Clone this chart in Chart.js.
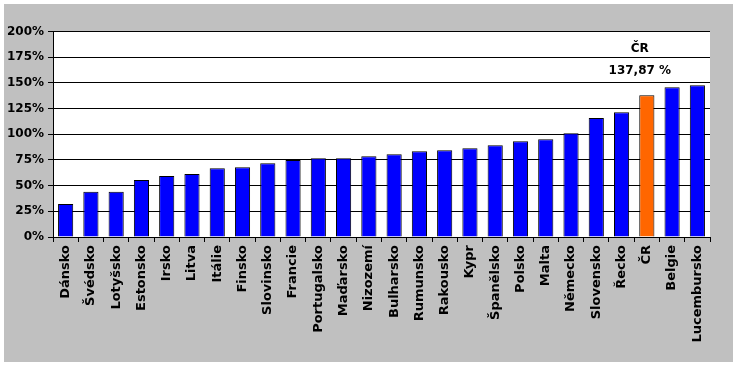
<!DOCTYPE html>
<html>
<head>
<meta charset="utf-8">
<script src="https://cdn.jsdelivr.net/npm/chart.js@4"></script>
<style>
  body { margin: 0; background: #ffffff; }
  #box {
    position: absolute;
    left: 4px;
    top: 4px;
    width: 729px;
    height: 358px;
    background: #c0c0c0;
  }
</style>
</head>
<body>
<div id="box"><canvas id="euChart"></canvas></div>
<script>
const countries = [
    "Dánsko", "Švédsko", "Lotyšsko", "Estonsko", "Irsko", "Litva", "Itálie",
    "Finsko", "Slovinsko", "Francie", "Portugalsko", "Maďarsko", "Nizozemí",
    "Bulharsko", "Rumunsko", "Rakousko", "Kypr", "Španělsko", "Polsko",
    "Malta", "Německo", "Slovensko", "Řecko", "ČR", "Belgie", "Lucembursko"
];

const values = [
    32, 44, 44, 55.5, 59.4, 61.3, 67, 67.8, 71.7, 74.9, 76.6, 76.6, 78.5,
    80.5, 83.4, 84.4, 86.3, 89.2, 93.1, 95.1, 100.9, 115.8, 121.3, 137.87,
    145.7, 147.6
];

const highlight = "ČR";
const highlightText = ["ČR", "137,87 %"];

const barColors = countries.map(c => c === highlight ? "#ff6600" : "#0000ff");

const yFont = { family: "DejaVu Sans", size: 12, weight: "bold" };
const xFont = { family: "DejaVu Sans", size: 13, weight: "bold" };

// white plot area on the grey box
const plotBackground = {
    id: "plotBackground",
    beforeDraw(chart) {
        const a = chart.chartArea;
        const c = chart.ctx;
        c.save();
        c.fillStyle = "#ffffff";
        c.fillRect(a.left, a.top, a.right - a.left, a.bottom - a.top);
        c.restore();
    }
};

// "ČR / 137,87 %" note above the highlighted bar
const highlightNote = {
    id: "highlightNote",
    afterDatasetsDraw(chart) {
        const c = chart.ctx;
        const xs = chart.scales.x;
        const ys = chart.scales.y;
        const x = xs.getPixelForValue(countries.indexOf(highlight)) - 7;
        c.save();
        c.font = "bold 12px 'DejaVu Sans'";
        c.fillStyle = "#000000";
        c.textAlign = "center";
        c.textBaseline = "middle";
        c.fillText(highlightText[0], x, ys.getPixelForValue(183));
        c.fillText(highlightText[1], x, ys.getPixelForValue(162));
        c.restore();
    }
};

new Chart(document.getElementById("euChart"), {
    type: "bar",
    data: {
        labels: countries,
        datasets: [{
            data: values,
            backgroundColor: barColors,
            borderColor: "#000000",
            borderWidth: 1,
            barPercentage: 0.6,
            categoryPercentage: 1
        }]
    },
    options: {
        responsive: true,
        maintainAspectRatio: false,
        animation: false,
        layout: { padding: { left: 0, top: 27.5, right: 23, bottom: 0 } },
        plugins: {
            legend: { display: false },
            tooltip: { enabled: false }
        },
        scales: {
            x: {
                offset: true,
                grid: {
                    offset: true,
                    drawOnChartArea: false,
                    drawTicks: true,
                    tickLength: 5,
                    color: "#000000"
                },
                border: { color: "#000000", width: 1 },
                ticks: {
                    color: "#000000",
                    font: xFont,
                    minRotation: 90,
                    maxRotation: 90,
                    autoSkip: false,
                    padding: 3
                },
                afterFit(scale) { scale.height = 125; }
            },
            y: {
                min: 0,
                max: 200,
                grid: {
                    color: "#000000",
                    lineWidth: 1,
                    drawTicks: true,
                    tickLength: 5
                },
                border: { color: "#000000", width: 1 },
                ticks: {
                    stepSize: 25,
                    color: "#000000",
                    font: yFont,
                    padding: 4,
                    callback: v => v + "%"
                },
                afterFit(scale) { scale.width = 49; }
            }
        }
    },
    plugins: [plotBackground, highlightNote]
});
</script>
</body>
</html>
